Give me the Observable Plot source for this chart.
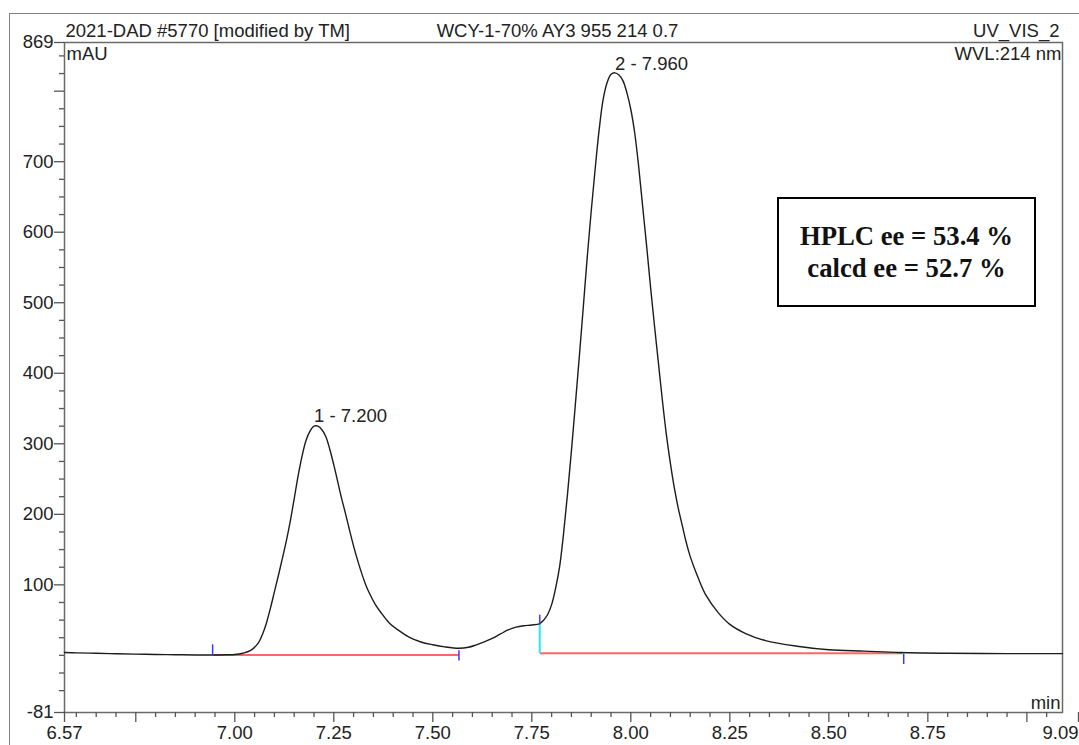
<!DOCTYPE html>
<html>
<head>
<meta charset="utf-8">
<script src="https://cdn.jsdelivr.net/npm/d3@7"></script>
<script src="https://cdn.jsdelivr.net/npm/@observablehq/plot@0.6"></script>
<style>
  html, body { margin: 0; padding: 0; background: #fff; }
  #wrap { position: relative; width: 1079px; height: 745px; overflow: hidden; }
  #outer { position: absolute; left: 9px; top: 13px; right: -10px; bottom: -10px;
           border-left: 1.5px solid #808080; border-top: 1.5px solid #808080; }
  #chart { position: absolute; left: 0; top: 0; }
  #note { position: absolute; left: 777px; top: 197px; width: 259px; height: 110px;
          box-sizing: border-box; border: 2.5px solid #000; display: flex;
          flex-direction: column; justify-content: center; align-items: center;
          font-family: "Liberation Serif", "Times New Roman", serif; font-weight: bold;
          font-size: 26.7px; line-height: 32px; color: #111; }
</style>
</head>
<body>
<div id="wrap">
  <div id="outer"></div>
  <div id="chart"></div>
  <div id="note"></div>
</div>
<script>
// ---- chromatogram signal (retention time in min, absorbance in mAU) ----
const times = [
  6.57, 6.60, 6.65, 6.70, 6.75, 6.80, 6.85, 6.90, 6.94, 6.98,
  7.00, 7.02, 7.04, 7.06, 7.07, 7.08, 7.09, 7.10, 7.115, 7.13,
  7.14, 7.15, 7.16, 7.17, 7.18, 7.19, 7.20, 7.21, 7.22, 7.23,
  7.24, 7.25, 7.26, 7.27, 7.28, 7.29, 7.30, 7.31, 7.32, 7.33,
  7.34, 7.355, 7.37, 7.39, 7.42, 7.44, 7.47, 7.50, 7.53, 7.566,
  7.59, 7.61, 7.63, 7.65, 7.67, 7.69, 7.71, 7.73, 7.75, 7.77,
  7.78, 7.79, 7.80, 7.81, 7.82, 7.83, 7.84, 7.85, 7.86, 7.87,
  7.88, 7.89, 7.90, 7.91, 7.92, 7.93, 7.94, 7.95, 7.96, 7.97,
  7.98, 7.99, 8.00, 8.01, 8.02, 8.03, 8.04, 8.05, 8.06, 8.07,
  8.08, 8.09, 8.10, 8.11, 8.12, 8.13, 8.14, 8.15, 8.17, 8.19,
  8.22, 8.25, 8.29, 8.34, 8.42, 8.50, 8.59, 8.68, 8.80, 8.95, 9.09
];
const signal = [
  4, 3.6, 3, 2.3, 1.8, 1.3, 0.9, 0.6, 0.5, 0.8,
  1.3, 3, 7, 18, 30, 46, 67, 90, 125, 162,
  190, 222, 255, 283, 305, 318, 325, 325, 320, 310,
  292, 270, 246, 222, 200, 177, 155, 135, 117, 101,
  88, 72, 60, 46, 33, 26, 19, 15, 12, 10,
  11.5, 15, 19, 24, 30, 36, 40, 42, 43, 45,
  50, 58, 72, 95, 125, 172, 228, 290, 356, 424,
  494, 565, 630, 690, 745, 788, 812, 824, 826, 823,
  815, 798, 774, 740, 692, 636, 580, 521, 466, 413,
  360, 312, 272, 237, 208, 184, 160, 140, 110, 85,
  61, 44, 31, 21, 13, 8, 6, 4, 3, 2.5, 2.5
];

// ---- peaks ----
const peakLabels  = ["1 - 7.200", "2 - 7.960"];
const peakTimes   = [7.200, 7.960];
const peakHeights = [326, 826];

// ---- integration baselines (red) ----
const baseStartT = [6.944, 7.770];
const baseStartV = [0.5, 3];
const baseEndT   = [7.566, 8.686];
const baseEndV   = [0.5, 3];

// ---- peak delimiter marks (blue) ----
const delimT  = [6.944, 7.566, 7.770, 8.689];
const delimLo = [0, -8, 43, -13];
const delimHi = [15, 6.5, 57, 2];

// ---- perpendicular drop (cyan) ----
const dropT  = [7.770];
const dropLo = [3];
const dropHi = [43];

// ---- axes ----
const xDomain  = [6.57, 9.09];
const yDomain  = [-81, 869];
const xMajor   = [6.57, 6.75, 7.00, 7.25, 7.50, 7.75, 8.00, 8.25, 8.50, 8.75, 9.00];
const xLabeled = ["6.57", "7.00", "7.25", "7.50", "7.75", "8.00", "8.25", "8.50", "8.75"];
const xEnd     = [9.09];
const yMajor   = [-81, 100, 200, 300, 400, 500, 600, 700, 800, 869];
const yLabeled = ["-81", "100", "200", "300", "400", "500", "600", "700", "869"];

// ---- header texts ----
const headerLeft   = "2021-DAD #5770 [modified by TM]";
const headerCenter = "WCY-1-70% AY3 955 214 0.7";
const headerRight  = "UV_VIS_2";
const yUnit = "mAU";
const wavelength = "WVL:214 nm";
const xUnit = "min";
const noteLines = ["HPLC ee = 53.4 %", "calcd ee = 52.7 %"];

const trace = times.map((t, i) => ({t, v: signal[i]}));
const peaks = peakLabels.map((l, i) => ({l, t: peakTimes[i], v: peakHeights[i]}));
const bases = baseStartT.map((t, i) => ({t1: t, v1: baseStartV[i], t2: baseEndT[i], v2: baseEndV[i]}));
const delims = delimT.map((t, i) => ({t, lo: delimLo[i], hi: delimHi[i]}));
const drops = dropT.map((t, i) => ({t, lo: dropLo[i], hi: dropHi[i]}));

const xMinor = d3.range(132, 182).map(k => +(k * 0.05).toFixed(2)).filter(v => v > 6.57 && v < 9.09 && !xMajor.includes(v));
const yMinor = d3.range(-2, 35).map(k => k * 25).filter(v => v % 100 !== 0 || v === 0);

const f2 = d3.format(".2f");
const xLab = new Set(xLabeled);
const yLab = new Set(yLabeled);

const font = "Liberation Sans, Arial, Helvetica, sans-serif";

const chart = Plot.plot({
  width: 1079,
  height: 745,
  marginLeft: 64,
  marginRight: 17,
  marginTop: 42,
  marginBottom: 33,
  style: {fontFamily: font, fontSize: "18.5px", background: "none", color: "#222"},
  x: {domain: xDomain},
  y: {domain: yDomain},
  marks: [
    Plot.frame({stroke: "#6a6a6a", strokeWidth: 1.5}),
    Plot.axisX(xMinor, {tickSize: 5, tickFormat: () => "", stroke: "#555", strokeWidth: 1.3}),
    Plot.axisX(xMajor, {tickSize: 10, tickPadding: 3, stroke: "#555", strokeWidth: 1.3, fill: "#222",
      tickFormat: d => xLab.has(f2(d)) ? f2(d) : ""}),
    Plot.axisX(xEnd, {tickSize: 10, tickPadding: 3, stroke: "#555", strokeWidth: 1.3, fill: "#222",
      tickFormat: f2, textAnchor: "end", dx: 16}),
    Plot.axisY(yMinor, {tickSize: 5, tickFormat: () => "", stroke: "#555", strokeWidth: 1.3}),
    Plot.axisY(yMajor, {tickSize: 10, tickPadding: 1, stroke: "#555", strokeWidth: 1.3, fill: "#222",
      tickFormat: d => yLab.has(String(d)) ? String(d) : ""}),
    Plot.link(bases, {x1: "t1", y1: "v1", x2: "t2", y2: "v2", stroke: "#ff4a4a", strokeWidth: 2, strokeOpacity: 0.85}),
    Plot.ruleX(drops, {x: "t", y1: "lo", y2: "hi", stroke: "#22eeee", strokeWidth: 2}),
    Plot.line(trace, {x: "t", y: "v", stroke: "#1c1c1c", strokeWidth: 1.4, curve: "catmull-rom"}),
    Plot.ruleX(delims, {x: "t", y1: "lo", y2: "hi", stroke: "#3a3aff", strokeWidth: 1.5}),
    Plot.text(peaks, {x: "t", y: "v", text: "l", textAnchor: "start", lineAnchor: "bottom", dy: -3, fill: "#222"}),
    Plot.text([headerLeft], {frameAnchor: "top-left", textAnchor: "start", lineAnchor: "bottom", dx: 1, dy: -6, fill: "#222"}),
    Plot.text([headerCenter], {frameAnchor: "top", textAnchor: "middle", lineAnchor: "bottom", dx: -6, dy: -6, fill: "#222"}),
    Plot.text([headerRight], {frameAnchor: "top-right", textAnchor: "end", lineAnchor: "bottom", dx: -3, dy: -6, fill: "#222"}),
    Plot.text([yUnit], {frameAnchor: "top-left", textAnchor: "start", lineAnchor: "bottom", dx: 2, dy: 17, fill: "#222"}),
    Plot.text([wavelength], {frameAnchor: "top-right", textAnchor: "end", lineAnchor: "bottom", dx: -1, dy: 17, fill: "#222"}),
    Plot.text([xUnit], {frameAnchor: "bottom-right", textAnchor: "end", lineAnchor: "bottom", dx: -2, dy: -4, fill: "#222"})
  ]
});
document.getElementById("chart").appendChild(chart);

const note = document.getElementById("note");
noteLines.forEach(s => { const d = document.createElement("div"); d.textContent = s; note.appendChild(d); });
</script>
</body>
</html>
